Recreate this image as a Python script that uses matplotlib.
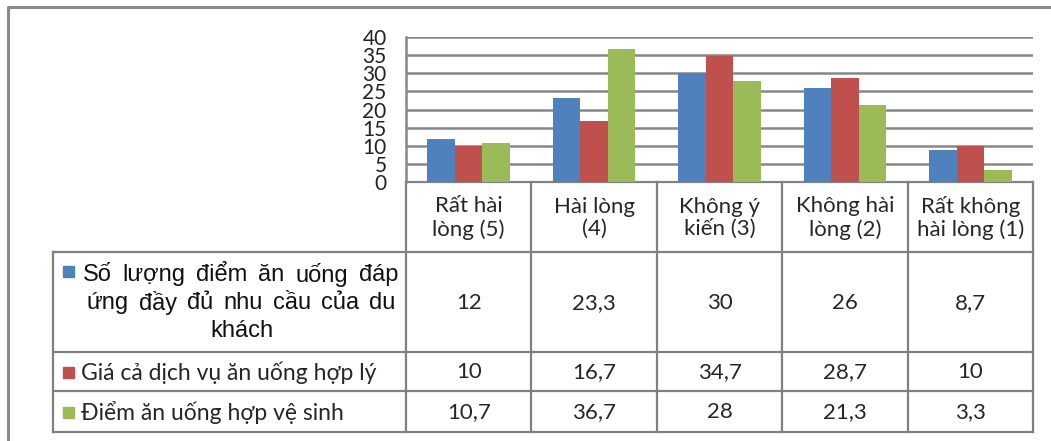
import numpy as np
import matplotlib
matplotlib.use('Agg')
import matplotlib.pyplot as plt
from matplotlib.patches import Rectangle

categories = ['Rất hài\nlòng (5)', 'Hài lòng\n(4)', 'Không ý\nkiến (3)', 'Không hài\nlòng (2)', 'Rất không\nhài lòng (1)']
series_names = ['Số lượng điểm ăn uống đáp ứng đầy đủ nhu cầu của du khách',
                'Giá cả dịch vụ ăn uống hợp lý',
                'Điểm ăn uống hợp vệ sinh']
so_luong = [12, 23.3, 30, 26, 8.7]
gia_ca = [10, 16.7, 34.7, 28.7, 10]
ve_sinh = [10.7, 36.7, 28, 21.3, 3.3]
values = [so_luong, gia_ca, ve_sinh]
colors = ['#4F81BD', '#C0504D', '#9BBB59']
yticks = [0, 5, 10, 15, 20, 25, 30, 35, 40]

FONT = ['Lato', 'Noto Sans', 'DejaVu Sans']
W, H = 1051, 441
fig = plt.figure(figsize=(W / 100, H / 100), dpi=100)

# pixel-space overlay for frame + data table
lay = fig.add_axes([0, 0, 1, 1])
lay.set_xlim(0, W)
lay.set_ylim(H, 0)
lay.axis('off')

grid_col = '#878787'
# outer frame (left and top edges visible)
lay.plot([8, 8, W], [H, 7, 7], color='#8a8a8a', lw=2.2, solid_capstyle='butt')

# bar chart
x0, x1, ytop, ybot = 406, 1033, 37, 182
ax = fig.add_axes([x0 / W, 1 - ybot / H, (x1 - x0) / W, (ybot - ytop) / H])
x = np.arange(len(categories))
bw = 0.22
for i, (vals, c) in enumerate(zip(values, colors)):
    ax.bar(x + (i - 1) * bw, vals, width=bw, color=c, zorder=3)
ax.set_xlim(-0.5, len(categories) - 0.5)
ax.set_ylim(0, 40)
ax.set_yticks(yticks)
ax.set_yticklabels([str(t) for t in yticks], family=FONT, fontsize=15, color='#222222')
ax.tick_params(axis='y', length=0, pad=14)
ax.set_xticks([])
ax.grid(axis='y', color=grid_col, lw=1.8, zorder=0)
for s in ['top', 'right', 'bottom']:
    ax.spines[s].set_visible(False)
ax.spines['left'].set_color(grid_col)
ax.spines['left'].set_linewidth(1.8)
ax.patch.set_alpha(0)

# table
col_edges = np.linspace(x0, x1, len(categories) + 1)
row_edges = [182, 252, 352, 391, 432]
left = 53
tcol = '#808080'
for xe in col_edges:
    lay.plot([xe, xe], [row_edges[0], row_edges[-1]], color=tcol, lw=1.6)
lay.plot([left, left], [row_edges[1], row_edges[-1]], color=tcol, lw=1.6)
lay.plot([x0, x1], [row_edges[0], row_edges[0]], color=tcol, lw=1.6)
for ye in row_edges[1:]:
    lay.plot([left, x1], [ye, ye], color=tcol, lw=1.6)

txt = '#262626'
centers = (col_edges[:-1] + col_edges[1:]) / 2
for cx, lab in zip(centers, categories):
    lay.text(cx, (row_edges[0] + row_edges[1]) / 2 + 1, lab, ha='center', va='center',
             family=FONT, fontsize=16, color=txt, linespacing=1.15)

renderer = fig.canvas.get_renderer()


def justify(words, xa, xb, y, **kw):
    # spread words over [xa, xb] like a justified paragraph line
    arts = [lay.text(0, y, w, ha='left', va='center', **kw) for w in words]
    inv = lay.transData.inverted()
    widths = []
    for a in arts:
        bb = a.get_window_extent(renderer)
        p0 = inv.transform((bb.x0, bb.y0))
        p1 = inv.transform((bb.x1, bb.y0))
        widths.append(p1[0] - p0[0])
    gap = (xb - xa - sum(widths)) / (len(words) - 1)
    pos = xa
    for a, wd in zip(arts, widths):
        a.set_x(pos)
        pos += wd + gap


for r, (vals, c, name) in enumerate(zip(values, colors, series_names)):
    cy = (row_edges[r + 1] + row_edges[r + 2]) / 2
    for cx, v in zip(centers, vals):
        lay.text(cx, cy + 1, f'{v:g}'.replace('.', ','), ha='center', va='center',
                 family=FONT, fontsize=16, color=txt)
    if r == 0:
        lay.add_patch(Rectangle((63, 266), 11, 11, color=c))
        words = name.split()
        kw = dict(family='Liberation Sans', fontsize=17, color='#111111')
        justify(words[:6], 83, 398, 275, **kw)
        justify(words[6:13], 87, 395, 303, **kw)
        lay.text(242, 331, words[13], ha='center', va='center', **kw)
    else:
        lay.add_patch(Rectangle((63, cy - 5), 11, 11, color=c))
        lay.text(81, cy + 1, name, ha='left', va='center', family=FONT,
                 fontsize=16.5, color=txt)

fig.savefig('out.png', dpi=100)
